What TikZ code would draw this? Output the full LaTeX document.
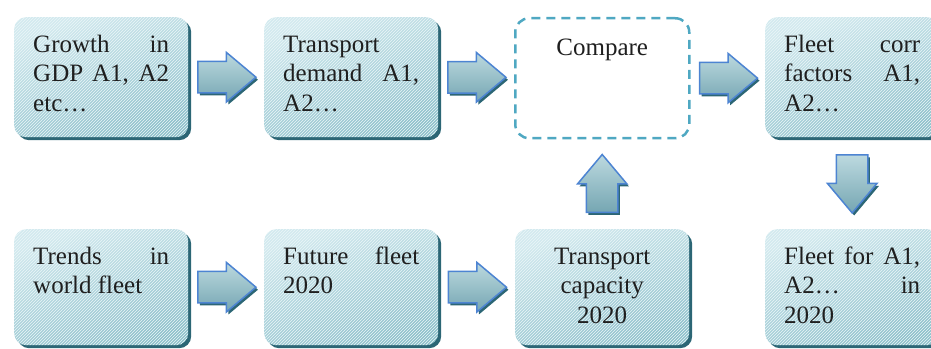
\documentclass[tikz,border=0pt]{standalone}
\usepackage{fontspec}
\setmainfont{Liberation Serif}
\usetikzlibrary{shapes.arrows,shadows,calc,patterns}

\definecolor{boxlight}{HTML}{D3EAEF}
\definecolor{boxdark}{HTML}{8EC0CB}
\definecolor{boxshade}{HTML}{2C6675}
\definecolor{arrowline}{HTML}{4D84D2}
\definecolor{arrowlight}{HTML}{BCD9DF}
\definecolor{arrowdark}{HTML}{75A6B2}
\definecolor{dashline}{HTML}{4FA8C2}

\begin{document}
\begin{tikzpicture}[x=1pt, y=1pt,
	every node/.style={font=\fontsize{25}{29.5}\selectfont, text=black!88},
	box/.style={anchor=north west, rounded corners=12pt, inner xsep=19pt, inner ysep=0pt,
		text width=136pt, text height=35pt, text depth=85pt, align=justify,
		top color=boxlight, bottom color=boxdark, shading angle=20,
		drop shadow={shadow xshift=3pt, shadow yshift=-3pt, fill=boxshade, opacity=1},
		postaction={pattern=north east lines, pattern color=white!55!boxlight}},
	lowbox/.style={box, text depth=81pt},
	dashbox/.style={anchor=north west, rounded corners=14pt, draw=dashline, line width=2.5pt,
		dash pattern=on 9pt off 6pt, inner xsep=19pt, inner ysep=0pt,
		text width=136pt, text height=37pt, text depth=83pt, align=center},
	blockarrow/.style={single arrow, anchor=tail, draw=arrowline, line width=1.5pt, inner sep=0pt,
		text height=15pt, text depth=15pt, minimum height=58pt, minimum width=48pt,
		single arrow head extend=9pt, single arrow tip angle=80,
		top color=arrowlight, bottom color=arrowdark,
		drop shadow={shadow xshift=2pt, shadow yshift=-2.5pt, fill=boxshade, opacity=1}}]
	\useasboundingbox (0,0) rectangle (931,348);
	\node[box] (gdp) at (14,331) {Growth in\linebreak GDP A1, A2\linebreak etc…};
	\node[box] (dem) at (264,331) {Transport\linebreak demand A1,\linebreak A2…};
	\node[dashbox] (cmp) at (514,331) {Compare};
	\node[box] (corr) at (765,331) {Fleet corr\linebreak factors A1,\linebreak A2…};
	\node[lowbox] (trd) at (14,119) {Trends in\linebreak world fleet};
	\node[lowbox] (fut) at (264,119) {Future fleet\linebreak 2020};
	\node[lowbox, align=center] (cap) at (515,119) {Transport\\capacity\\2020};
	\node[lowbox] (ffor) at (765,119) {Fleet for A1,\linebreak A2… in\linebreak 2020};
	\node[blockarrow] (a1) at ($(gdp.east)!0.5!(dem.west)!29pt!(gdp.east)$) {};
	\node[blockarrow] (a2) at ($(dem.east)!0.5!(cmp.west)!29pt!(dem.east)$) {};
	\node[blockarrow] (a3) at ($(cmp.east)!0.5!(corr.west)!29pt!(cmp.east)$) {};
	\node[blockarrow] (a4) at ($(trd.east)!0.5!(fut.west)!29pt!(trd.east)$) {};
	\node[blockarrow] (a5) at ($(fut.east)!0.5!(cap.west)!29pt!(fut.east)$) {};
	\node[blockarrow, rotate=90] (a6) at ($(cap.north)!0.5!(cmp.south)!29pt!(cap.north)$) {};
	\node[blockarrow, rotate=-90] (a7) at ($(corr.south)!0.5!(ffor.north)!29pt!(corr.south)$) {};
\end{tikzpicture}
\end{document}
